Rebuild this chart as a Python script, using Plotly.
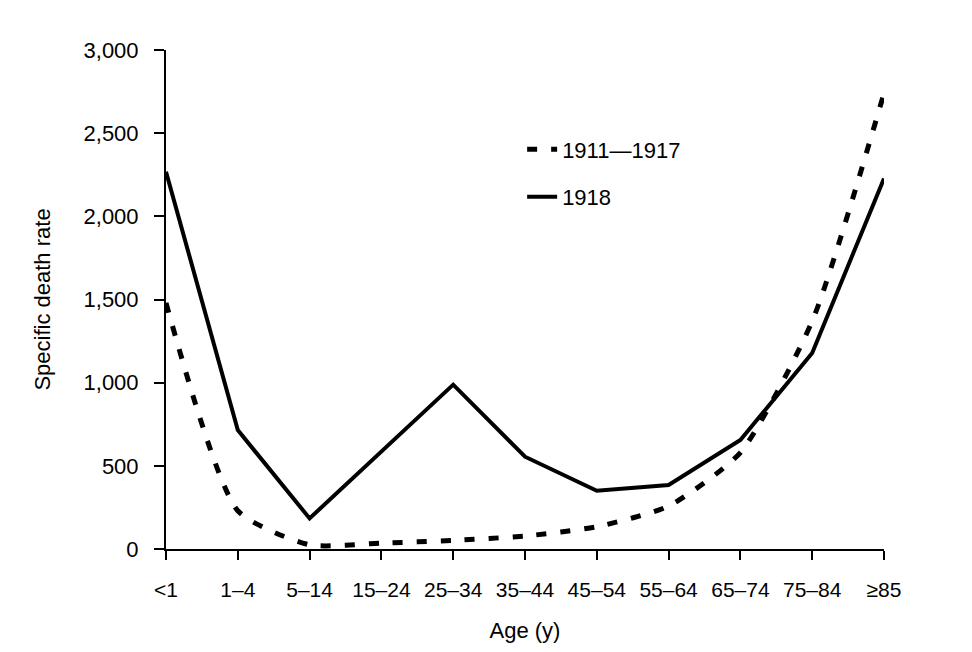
import plotly.graph_objects as go

ages = ["<1", "1–4", "5–14", "15–24", "25–34", "35–44", "45–54", "55–64", "65–74", "75–84", "≥85"]
rate_1911_1917 = [1480, 230, 25, 35, 52, 78, 134, 258, 580, 1370, 2740]
rate_1918 = [2268, 715, 184, 588, 988, 555, 350, 385, 655, 1178, 2228]

font_main = "Liberation Sans, Arial, sans-serif"

fig = go.Figure()
fig.add_trace(go.Scatter(x=ages, y=rate_1911_1917, name="1911—1917", mode="lines",
                         line=dict(color="black", width=5, dash="10px,14px", shape="spline", smoothing=0.6),
                         legendgroup="a"))
fig.add_trace(go.Scatter(x=ages, y=rate_1918, name="1918", mode="lines",
                         line=dict(color="black", width=4),
                         legendgroup="b"))

# page has an 8px body margin, so margins are shifted to keep the plot area in place
fig.update_layout(
    width=972, height=652,
    margin=dict(l=158, r=96, t=42, b=111),
    paper_bgcolor="white", plot_bgcolor="white",
    font=dict(family=font_main, size=21, color="black"),
    showlegend=True,
    legend=dict(x=0.496, y=0.843, xanchor="left", yanchor="top",
                font=dict(size=22),
                traceorder="grouped", tracegroupgap=16, bgcolor="rgba(0,0,0,0)"),
)
fig.update_xaxes(
    type="category", range=[0, 10], showgrid=False, zeroline=False,
    showline=True, linecolor="black", linewidth=2,
    ticks="outside", ticklen=9, tickwidth=2, tickcolor="black",
    tickfont=dict(size=21), ticklabelstandoff=12,
    title=dict(text="Age (y)", font=dict(size=22), standoff=22),
)
fig.update_yaxes(
    range=[0, 3000], tickvals=[0, 500, 1000, 1500, 2000, 2500, 3000],
    tickformat=",d", showgrid=False, zeroline=False,
    showline=True, linecolor="black", linewidth=2,
    ticks="outside", ticklen=10, tickwidth=2, tickcolor="black",
    tickfont=dict(size=22), ticklabelstandoff=11,
    title=dict(text="Specific death rate", font=dict(size=22), standoff=27),
)

fig.write_html("out.html")
